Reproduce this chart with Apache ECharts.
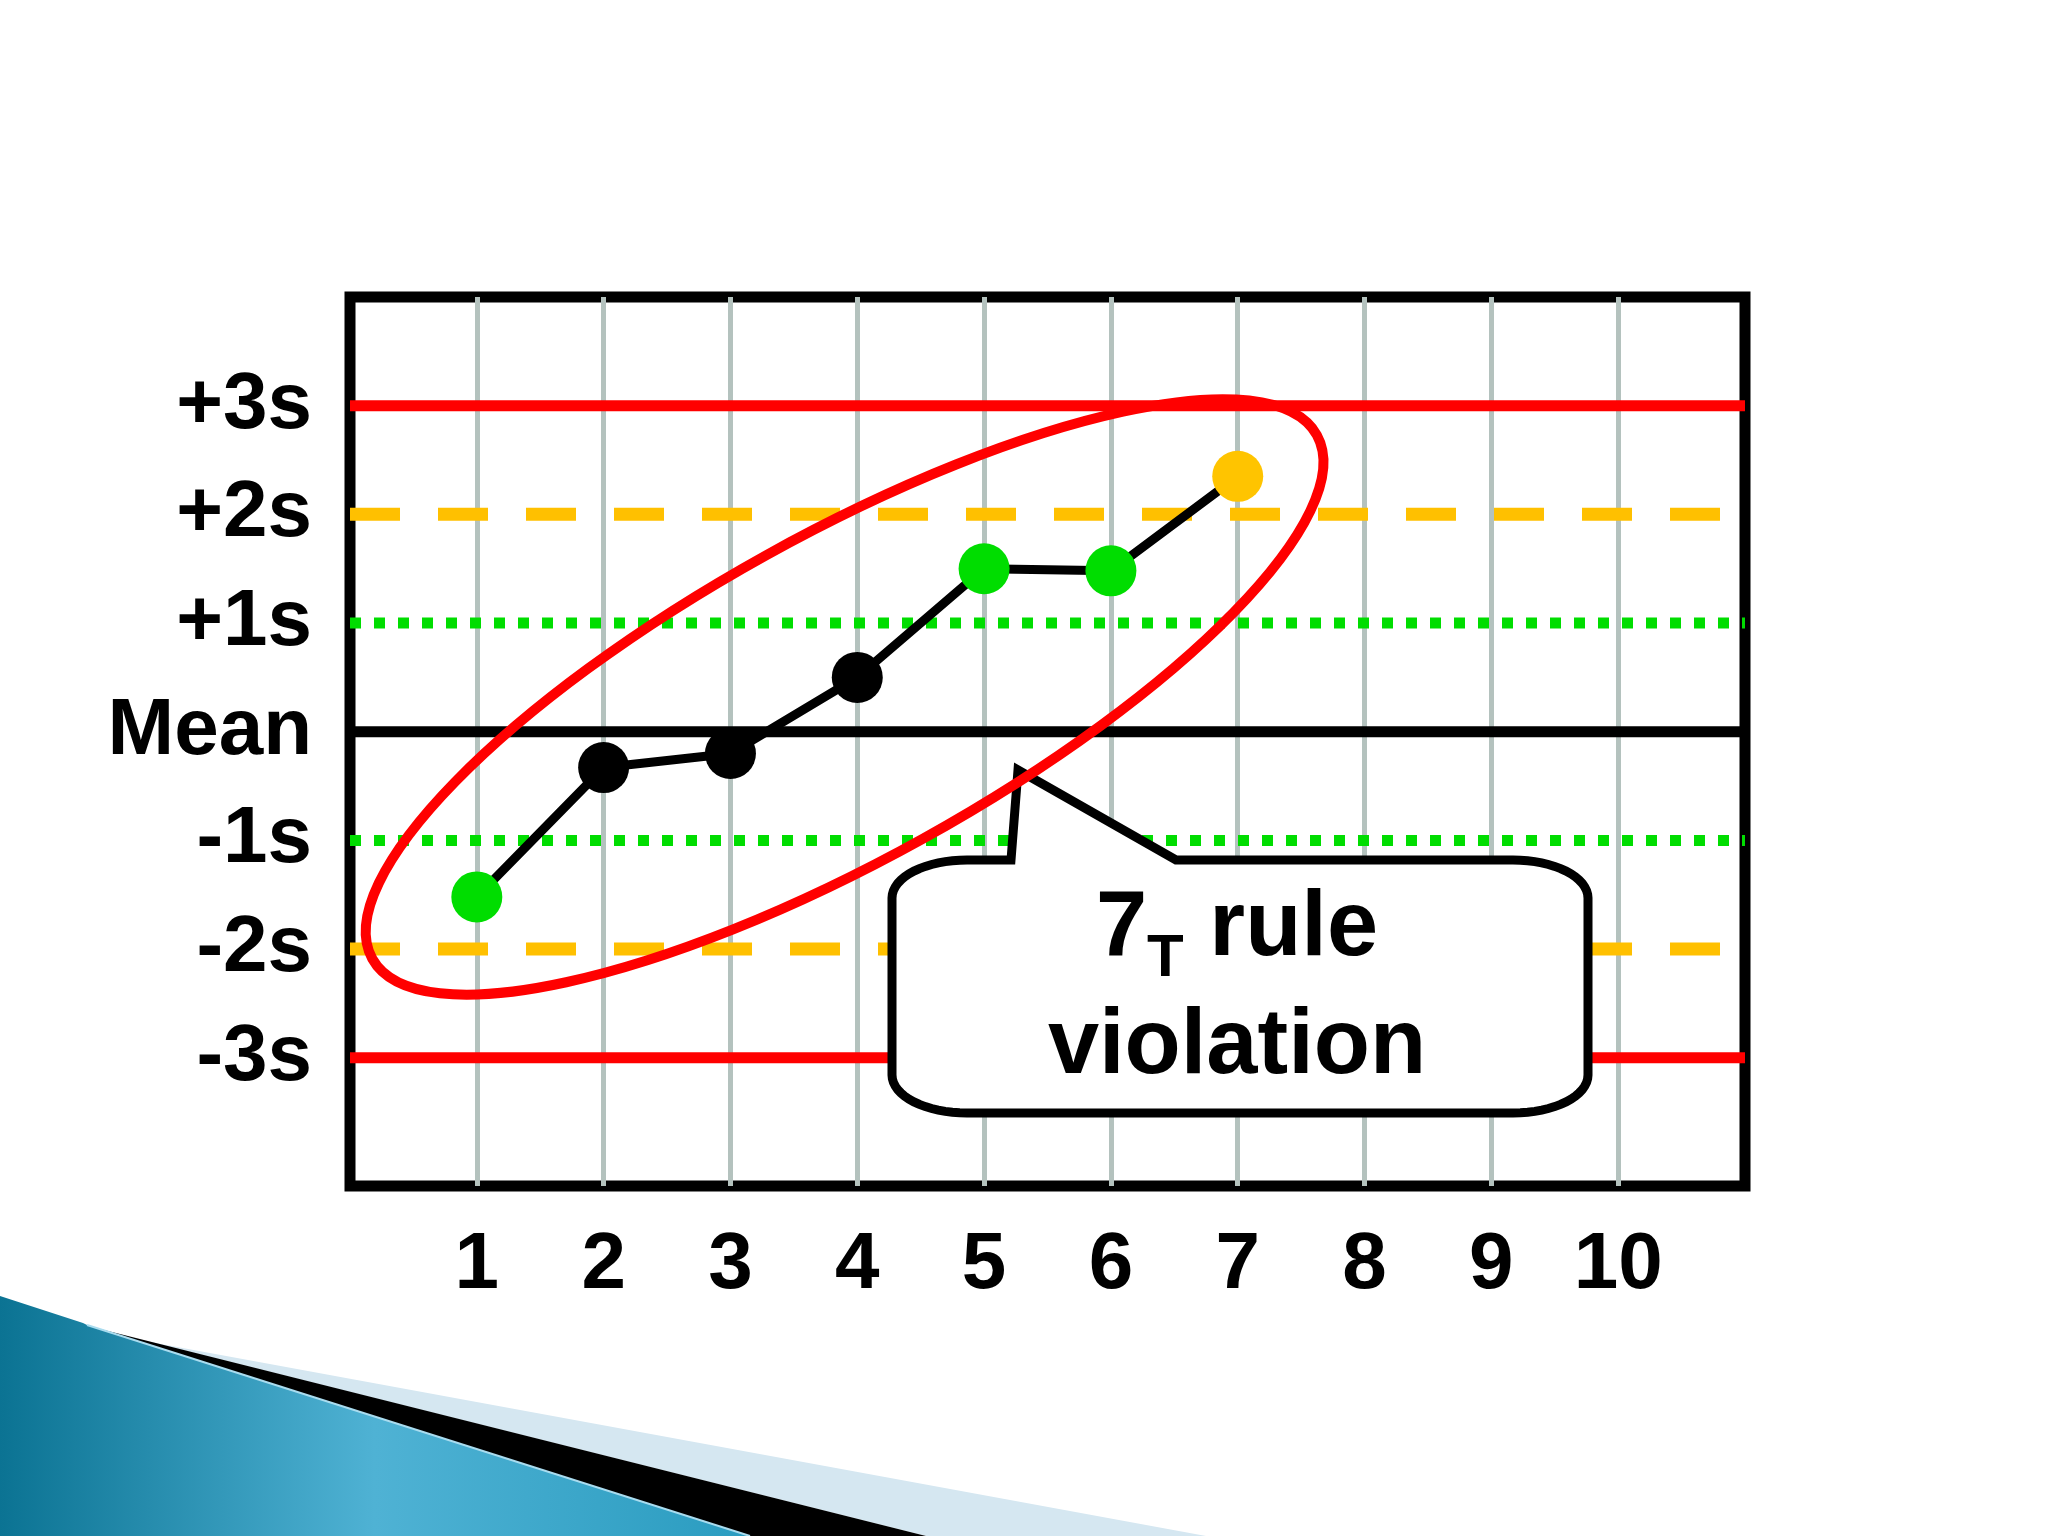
<!DOCTYPE html>
<html><head><meta charset="utf-8">
<script src="https://cdn.jsdelivr.net/npm/echarts@6/dist/echarts.min.js"></script>
<style>html,body{margin:0;padding:0;background:#fff}#c{width:2048px;height:1536px}</style>
</head><body><div id="c"></div>
<script>
// ---- data ----
const runs = [1, 2, 3, 4, 5, 6, 7];
const values = [-1.52, -0.33, -0.2, 0.5, 1.5, 1.48, 2.35];
const pointColors = ['#00dd00', '#000000', '#000000', '#000000', '#00dd00', '#00dd00', '#ffc400'];
const xTickLabels = ['1', '2', '3', '4', '5', '6', '7', '8', '9', '10'];
const limitLevels = [3, 2, 1, 0, -1, -2, -3];
const limitLabels = ['+3s', '+2s', '+1s', 'Mean', '-1s', '-2s', '-3s'];
const limitKinds = ['control', 'warning', 'sd1', 'mean', 'sd1', 'warning', 'control'];
const xRange = [0, 11];
const yRange = [-4.18, 4];

const kindStyle = {
  control: { color: '#ff0000', width: 11, type: 'solid' },
  warning: { color: '#ffc000', width: 13, type: [50, 38], cap: 'butt' },
  sd1: { color: '#00dd00', width: 11, type: [11, 13], cap: 'butt' },
  mean: { color: '#000000', width: 11, type: 'solid' }
};

const chart = echarts.init(document.getElementById('c'), null, { renderer: 'canvas' });

const limitSeries = limitLevels.map((v, i) => ({
  type: 'line',
  name: limitLabels[i],
  data: [[xRange[0], v], [xRange[1], v]],
  symbol: 'none',
  silent: true,
  z: 2,
  lineStyle: kindStyle[limitKinds[i]]
}));

const option = {
  animation: false,
  backgroundColor: '#ffffff',
  grid: { left: 350, right: 303, top: 297, bottom: 350, show: true, borderColor: '#000', borderWidth: 11, backgroundColor: 'transparent' },
  xAxis: {
    type: 'value', min: xRange[0], max: xRange[1], interval: 1,
    axisLine: { show: false }, axisTick: { show: false },
    splitLine: { show: true, showMinLine: false, showMaxLine: false, lineStyle: { color: '#b4c2be', width: 5 } },
    axisLabel: {
      margin: 40, fontSize: 80, fontWeight: 'bold', color: '#000', lineHeight: 80,
      fontFamily: "'Liberation Sans', Arial, sans-serif",
      formatter: v => (v >= 1 && v <= xTickLabels.length) ? xTickLabels[v - 1] : ''
    }
  },
  yAxis: {
    type: 'value', min: yRange[0], max: yRange[1],
    axisLine: { show: false }, axisTick: { show: false }, splitLine: { show: false },
    axisLabel: {
      customValues: limitLevels,
      margin: 38, fontSize: 80, fontWeight: 'bold', color: '#000',
      fontFamily: "'Liberation Sans', Arial, sans-serif",
      formatter: v => { const k = limitLevels.indexOf(Math.round(v)); return k >= 0 ? limitLabels[k] : ''; }
    }
  },
  series: limitSeries.concat([{
    type: 'line',
    name: 'Control value',
    data: values.map((v, i) => ({ value: [runs[i], v], itemStyle: { color: pointColors[i] } })),
    symbol: 'circle', symbolSize: 51,
    lineStyle: { color: '#000', width: 9 },
    z: 5
  }])
};
chart.setOption(option);

// ---- annotations ----
const c = chart.convertToPixel({ gridIndex: 0 }, [3.9, 0.32]);
function arc(cx, cy, rx, ry, a0, a1, n) {
  const p = [];
  for (let k = 0; k <= n; k++) {
    const t = (a0 + (a1 - a0) * k / n) * Math.PI / 180;
    p.push([cx + rx * Math.cos(t), cy + ry * Math.sin(t)]);
  }
  return p;
}
const bx0 = 892, bx1 = 1588, by0 = 860, by1 = 1113, rx = 75, ry = 38;
let bubble = [[1018, 770], [1011, by0]];
bubble = bubble.concat(arc(bx0 + rx, by0 + ry, rx, ry, -90, -180, 16));
bubble = bubble.concat(arc(bx0 + rx, by1 - ry, rx, ry, 180, 90, 16));
bubble = bubble.concat(arc(bx1 - rx, by1 - ry, rx, ry, 90, 0, 16));
bubble = bubble.concat(arc(bx1 - rx, by0 + ry, rx, ry, 0, -90, 16));
bubble.push([1176, by0]);

const font = "'Liberation Sans', Arial, sans-serif";
chart.setOption({
  graphic: [
    { type: 'polygon', z: 1, silent: true, shape: { points: [[150, 1342], [1206, 1536], [926, 1536]] }, style: { fill: '#d5e7f1' } },
    { type: 'polygon', z: 1, silent: true, shape: { points: [[100, 1329], [926, 1536], [750, 1536], [87, 1325]] }, style: { fill: '#000' } },
    { type: 'polygon', z: 1, silent: true, shape: { points: [[0, 1296], [83, 1323], [87, 1325], [750, 1536], [0, 1536]] },
      style: { fill: new echarts.graphic.LinearGradient(0, 0, 1, 0, [
        { offset: 0, color: '#0b7393' }, { offset: 0.5, color: '#4fb2d4' }, { offset: 1, color: '#2a9cc0' }]) } },
    { type: 'polyline', z: 1, silent: true, shape: { points: [[87, 1325], [750, 1536]] }, style: { stroke: '#a9dcef', lineWidth: 2 } },
    { type: 'polygon', z: 20, silent: true, shape: { points: bubble }, style: { fill: '#fff', stroke: '#000', lineWidth: 9, lineJoin: 'miter' } },
    { type: 'text', z: 22, silent: true, x: 1237, y: 989,
      style: {
        text: '{a|7}{s|T}{a| rule}\n{a|violation}',
        align: 'center', verticalAlign: 'middle', fill: '#000',
        rich: {
          a: { fontSize: 92, fontWeight: 'bold', fontFamily: font, lineHeight: 118, fill: '#000' },
          s: { fontSize: 60, fontWeight: 'bold', fontFamily: font, lineHeight: 48, verticalAlign: 'bottom', fill: '#000' }
        }
      } },
    { type: 'ellipse', z: 25, silent: true, x: c[0], y: c[1], rotation: 29 * Math.PI / 180,
      shape: { cx: 0, cy: 0, rx: 540, ry: 162 }, style: { fill: 'transparent', stroke: '#ff0000', lineWidth: 10 } }
  ]
});
</script>
</body></html>
